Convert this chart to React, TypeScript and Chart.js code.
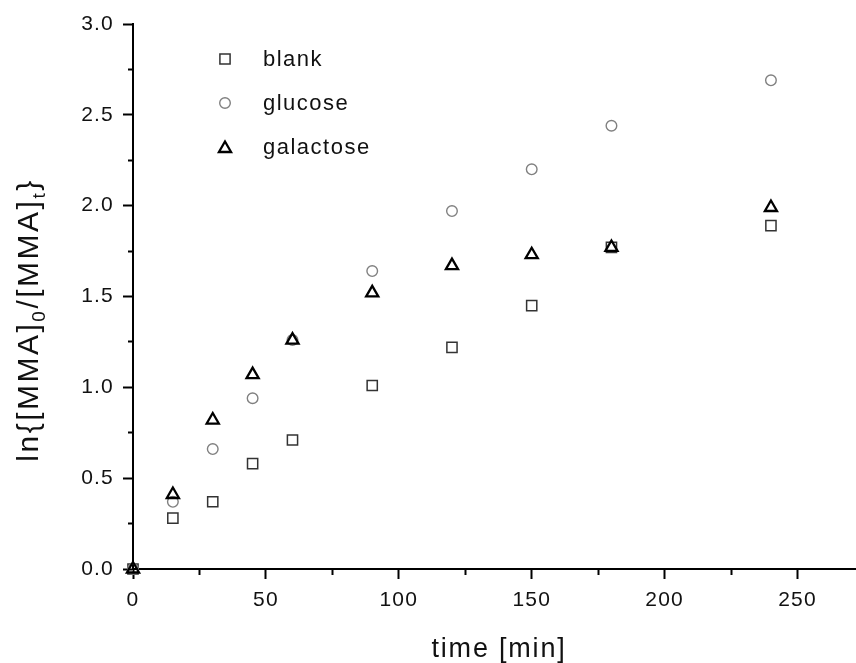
import React, { useEffect, useRef } from 'react';
import { Chart, registerables } from 'chart.js';
import { drawPoint } from 'chart.js/helpers';

Chart.register(...registerables);

// ---- data ----
const timeMin = [0, 15, 30, 45, 60, 90, 120, 150, 180, 240];
const blank = [0, 0.28, 0.37, 0.58, 0.71, 1.01, 1.22, 1.45, 1.77, 1.89];
const glucose = [0, 0.37, 0.66, 0.94, 1.26, 1.64, 1.97, 2.2, 2.44, 2.69];
const galactose = [0, 0.41, 0.82, 1.07, 1.26, 1.52, 1.67, 1.73, 1.77, 1.99];
const seriesLabels = ['blank', 'glucose', 'galactose'];
const xTitle = 'time [min]';
const yTitleParts = [
  { text: 'ln{[MMA]', sub: false },
  { text: '0', sub: true },
  { text: '/[MMA]', sub: false },
  { text: 't', sub: true },
  { text: '}', sub: false },
];
const xRange = { min: 0, max: 272, step: 25, labelEvery: 50 };
const yRange = { min: 0, max: 3, step: 0.25, labelEvery: 0.5 };

const FONT = '"Liberation Sans", Arial, Helvetica, sans-serif';

const toPoints = (ys: number[]) => ys.map((y, i) => ({ x: timeMin[i], y }));

const isMultiple = (v: number, m: number) => Math.abs(v / m - Math.round(v / m)) < 1e-6;

const textPlugin = {
  id: 'refText',
  beforeDraw(chart: any) {
    chart.ctx.letterSpacing = '1.2px';
  },
  afterDraw(chart: any) {
    const ctx = chart.ctx as CanvasRenderingContext2D;
    ctx.save();
    // legend
    const order = [0, 1, 2];
    order.forEach((dsIndex, i) => {
      const ds = chart.data.datasets[dsIndex];
      const y = 59 + i * 44;
      ctx.strokeStyle = ds.borderColor;
      ctx.fillStyle = 'rgba(0,0,0,0)';
      ctx.lineWidth = ds.borderWidth;
      ctx.setLineDash([]);
      drawPoint(
        ctx,
        { pointStyle: ds.pointStyle, radius: ds.pointRadius, borderWidth: ds.borderWidth, rotation: 0 } as any,
        225,
        y + (ds.pointStyle === 'triangle' ? 1.5 : 0)
      );
      ctx.fillStyle = '#111';
      ctx.font = `22px ${FONT}`;
      (ctx as any).letterSpacing = '1.5px';
      ctx.textAlign = 'left';
      ctx.textBaseline = 'alphabetic';
      ctx.fillText(ds.label, 263, y + 7);
    });

    // x title
    ctx.font = `27px ${FONT}`;
    (ctx as any).letterSpacing = '1.8px';
    ctx.fillStyle = '#111';
    const xw = ctx.measureText(xTitle).width;
    ctx.fillText(xTitle, 499 - xw / 2, 657);

    // y title (rotated, with subscripts)
    const mainFont = `30px ${FONT}`;
    const subFont = `19px ${FONT}`;
    (ctx as any).letterSpacing = '2.5px';
    let total = 0;
    const widths = yTitleParts.map((p) => {
      ctx.font = p.sub ? subFont : mainFont;
      const w = ctx.measureText(p.text).width;
      total += w;
      return w;
    });
    ctx.translate(38, 320);
    ctx.rotate(-Math.PI / 2);
    let x = -total / 2;
    yTitleParts.forEach((p, i) => {
      ctx.font = p.sub ? subFont : mainFont;
      ctx.fillText(p.text, x, p.sub ? 7 : 0);
      x += widths[i];
    });
    ctx.restore();
  },
};

export default function App() {
  const canvasRef = useRef<HTMLCanvasElement | null>(null);

  useEffect(() => {
    const canvas = canvasRef.current;
    if (!canvas) return;
    const chart = new Chart(canvas, {
      type: 'scatter',
      data: {
        datasets: [
          {
            label: seriesLabels[0],
            data: toPoints(blank),
            pointStyle: 'rect',
            pointRadius: 7.2,
            borderColor: '#333333',
            backgroundColor: 'rgba(0,0,0,0)',
            borderWidth: 1.5,
            showLine: false,
            clip: false,
            order: 2,
          },
          {
            label: seriesLabels[1],
            data: toPoints(glucose),
            pointStyle: 'circle',
            pointRadius: 5.3,
            borderColor: '#808080',
            backgroundColor: 'rgba(0,0,0,0)',
            borderWidth: 1.4,
            showLine: false,
            clip: false,
            order: 1,
          },
          {
            label: seriesLabels[2],
            data: toPoints(galactose),
            pointStyle: 'triangle',
            pointRadius: 7,
            borderColor: '#000000',
            backgroundColor: 'rgba(0,0,0,0)',
            borderWidth: 2.3,
            showLine: false,
            clip: false,
            order: 0,
          },
        ] as any,
      },
      options: {
        animation: false,
        responsive: false,
        maintainAspectRatio: false,
        events: [],
        layout: { autoPadding: false, padding: { top: 24, left: 0, right: 0, bottom: 0 } },
        plugins: {
          legend: { display: false },
          tooltip: { enabled: false },
          title: { display: false },
        },
        scales: {
          x: {
            type: 'linear',
            position: 'bottom',
            min: xRange.min,
            max: xRange.max,
            afterFit: (scale: any) => {
              scale.height = 94;
            },
            border: { display: true, color: '#000', width: 2 },
            grid: {
              display: true,
              drawOnChartArea: false,
              drawTicks: true,
              tickLength: 10,
              tickWidth: 2,
              tickColor: '#000',
              tickBorderDash: (c: any) =>
                c.tick && !isMultiple(c.tick.value, xRange.labelEvery) ? [5, 100] : [],
            },
            ticks: {
              stepSize: xRange.step,
              includeBounds: false,
              autoSkip: false,
              maxRotation: 0,
              padding: 9,
              color: '#111',
              font: { family: FONT, size: 21 },
              callback: (v: any) => (isMultiple(Number(v), xRange.labelEvery) ? String(v) : ''),
            },
            title: { display: false },
          },
          y: {
            type: 'linear',
            position: 'left',
            min: yRange.min,
            max: yRange.max,
            afterFit: (scale: any) => {
              scale.width = 133;
            },
            border: { display: true, color: '#000', width: 2 },
            grid: {
              display: true,
              drawOnChartArea: false,
              drawTicks: true,
              tickLength: 10,
              tickWidth: 2,
              tickColor: '#000',
              tickBorderDash: (c: any) =>
                c.tick && !isMultiple(c.tick.value, yRange.labelEvery) ? [0, 5, 20] : [],
            },
            ticks: {
              stepSize: yRange.step,
              includeBounds: false,
              autoSkip: false,
              padding: 9,
              color: '#111',
              font: { family: FONT, size: 21 },
              callback: (v: any) =>
                isMultiple(Number(v), yRange.labelEvery) ? Number(v).toFixed(1) : '',
            },
            title: { display: false },
          },
        },
      } as any,
      plugins: [textPlugin as any],
    });
    return () => chart.destroy();
  }, []);

  return (
    <div
      style={{
        position: 'absolute',
        left: 0,
        top: 0,
        width: 856,
        height: 663,
        background: '#ffffff',
        overflow: 'hidden',
      }}
    >
      <canvas ref={canvasRef} width={856} height={663} style={{ display: 'block' }} />
    </div>
  );
}
